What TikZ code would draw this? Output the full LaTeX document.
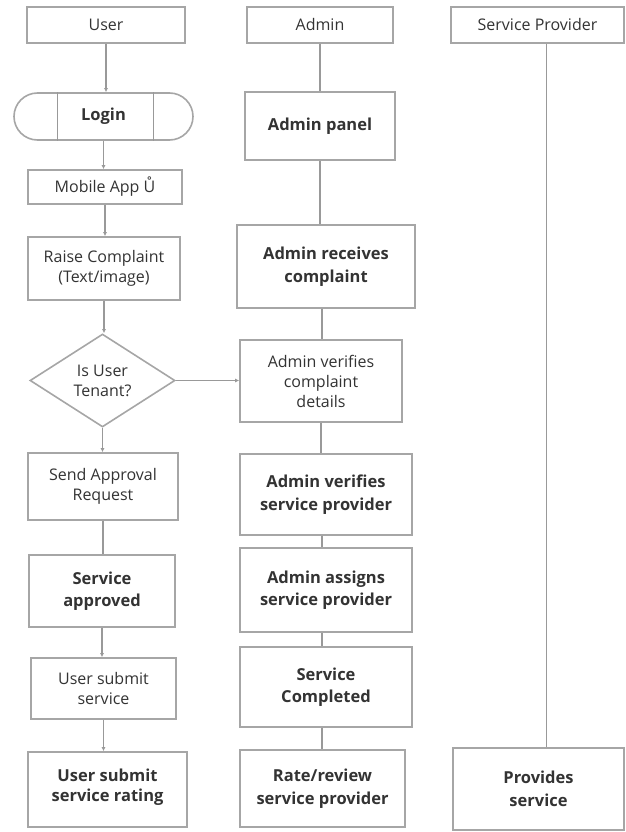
\documentclass[tikz,border=0pt]{standalone}
\usepackage{fontspec}
\setmainfont{Open Sans}
\usetikzlibrary{shapes,arrows,positioning,calc,arrows.meta}

\begin{document}
\begin{tikzpicture}[x=1pt, y=-1pt,
    box/.style={draw=gray!70, line width=1.6pt, fill=white, align=center, text=black!80,
        font=\fontsize{16}{20}\selectfont, inner sep=2pt},
    boldbox/.style={box, font=\fontsize{16.5}{22.5}\selectfont\bfseries},
    link/.style={draw=gray!80, line width=1.6pt},
    flow/.style={link, -{Latex[length=4pt,width=4pt]}}]
    \useasboundingbox (0,0) rectangle (625,832);

    % user lane
    \node[box, minimum width=158, minimum height=36] (user) at (106,25) {User};
    \node[boldbox, rounded rectangle, minimum width=183, minimum height=47] (login) at (103.5,116.5) {Login};
    \draw[link] ([xshift=-46]login.north) -- ([xshift=-46]login.south);
    \draw[link] ([xshift=50]login.north) -- ([xshift=50]login.south);
    \node[box, minimum width=154, minimum height=34] (mobile) at (105,187) {Mobile App Ů};
    \node[box, minimum width=152, minimum height=63] (raise) at (104,268.5) {Raise Complaint\\(Text/image)};
    \node[box, diamond, aspect=1.56, minimum width=145, minimum height=93, inner sep=0pt] (tenant) at (102.5,380.5) {Is User\\Tenant?};
    \node[box, minimum width=150, minimum height=67] (approval) at (103,486.5) {Send Approval\\Request};
    \node[boldbox, minimum width=146, minimum height=72] (approved) at (102,591) {Service\\approved};
    \node[box, minimum width=145, minimum height=61] (submit) at (103.5,688.5) {User submit\\service};
    \node[boldbox, minimum width=159, minimum height=75] (rating) at (107.5,789.5) {\raisebox{9pt}{\shortstack{User submit\\[4pt]service rating}}};

    % admin lane
    \node[box, minimum width=146, minimum height=36] (admin) at (320,25) {Admin};
    \node[boldbox, minimum width=150, minimum height=68] (panel) at (320,126) {Admin panel};
    \node[boldbox, minimum width=178, minimum height=83] (receives) at (326,266.5) {Admin receives\\complaint};
    \node[box, minimum width=162, minimum height=82] (vcomplaint) at (321,381) {Admin verifies\\complaint\\details};
    \node[boldbox, minimum width=172, minimum height=81] (vprovider) at (326,494.5) {Admin verifies\\service provider};
    \node[boldbox, minimum width=172, minimum height=84] (assigns) at (326,590) {Admin assigns\\service provider};
    \node[boldbox, minimum width=172, minimum height=80] (completed) at (326,687) {Service\\Completed};
    \node[boldbox, minimum width=165, minimum height=77] (rate) at (322.5,788.5) {Rate/review\\service provider};

    % provider lane
    \node[box, minimum width=173, minimum height=36] (provider) at (537.5,25) {Service Provider};
    \node[boldbox, minimum width=171, minimum height=82] (provides) at (538.5,789) {Provides\\service};

    % connectors
    \draw[flow] (user.south) -- (user.south |- login.north);
    \draw[flow] (login.south) -- (login.south |- mobile.north);
    \draw[flow] (mobile.south) -- (mobile.south |- raise.north);
    \draw[flow] (raise.south) -- (raise.south |- tenant.north);
    \draw[flow] (tenant.south) -- (tenant.south |- approval.north);
    \draw[link] (approval.south) -- (approval.south |- approved.north);
    \draw[flow] (approved.south) -- (approved.south |- submit.north);
    \draw[flow] (submit.south) -- (submit.south |- rating.north);
    \draw[flow] (tenant.east) -- (tenant.east -| vcomplaint.west);
    \draw[link] (admin.south) -- (admin.south |- panel.north);
    \draw[link] (panel.south) -- (panel.south |- receives.north);
    \draw[link] ([xshift=-4]receives.south) -- ([xshift=-4]receives.south |- vcomplaint.north);
    \draw[link] (vcomplaint.south) -- (vcomplaint.south |- vprovider.north);
    \draw[link] ([xshift=-4]vprovider.south) -- ([xshift=-4]vprovider.south |- assigns.north);
    \draw[link] ([xshift=-4]assigns.south) -- ([xshift=-4]assigns.south |- completed.north);
    \draw[link] ([xshift=-4]completed.south) -- ([xshift=-4]completed.south |- rate.north);
    \draw[link] ([xshift=9]provider.south) -- ([xshift=9]provider.south |- provides.north);
\end{tikzpicture}
\end{document}
